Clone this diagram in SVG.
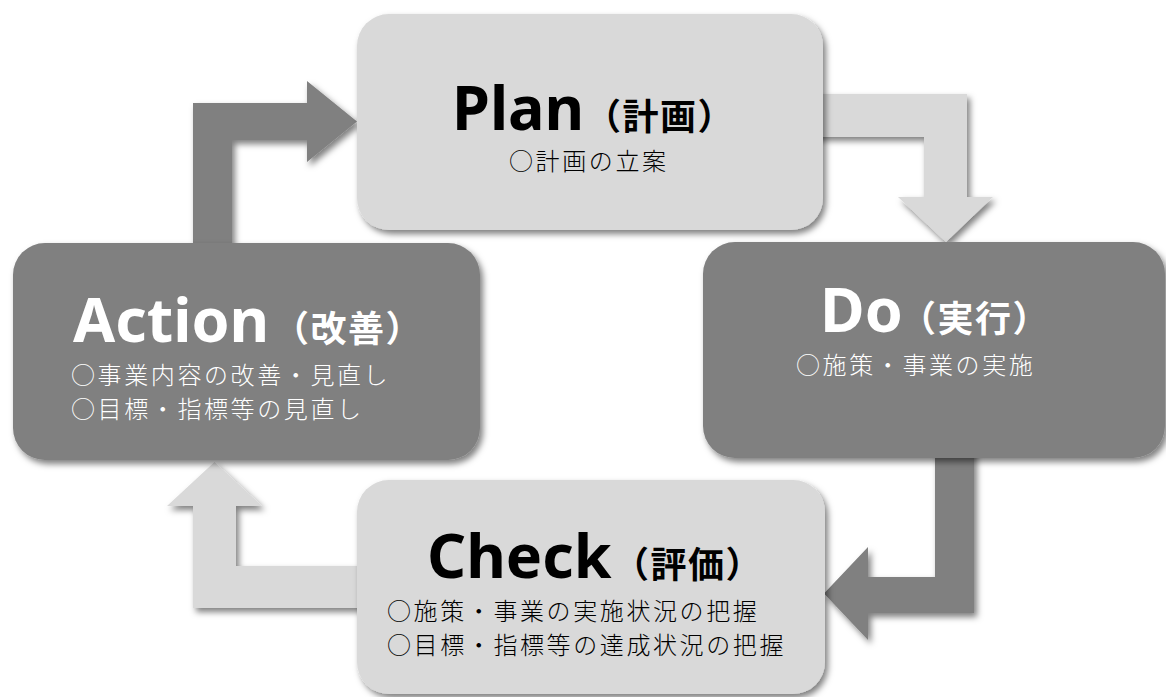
<svg xmlns="http://www.w3.org/2000/svg" width="1166" height="697" viewBox="0 0 1166 697">
<defs>
<filter id="sh" x="-10%" y="-10%" width="130%" height="130%">
<feDropShadow dx="3" dy="4" stdDeviation="3" flood-color="#000" flood-opacity="0.5"/>
</filter>
<style>
.dark{fill:#808080;}
.light{fill:#d9d9d9;}
.title{font-family:"Noto Sans","Noto Sans CJK JP",sans-serif;font-weight:bold;font-size:61px;}
.par{font-family:"Noto Sans CJK JP",sans-serif;font-weight:bold;font-size:36px;letter-spacing:1.5px;}
.sub{font-family:"Noto Sans CJK JP",sans-serif;font-weight:300;font-size:24px;letter-spacing:2.6px;}
.blk{fill:#000;}
.wht{fill:#fff;}
</style>
</defs>
<rect width="1166" height="697" fill="#fff"/>
<g id="connectors" filter="url(#sh)">
<path class="dark" d="M193,255 L193,103 L307,103 L307,81 L357,121.5 L307,162 L307,140 L232,140 L232,255 Z"/>
<path class="light" d="M800,94 L967,94 L967,197 L993,197 L946,242 L898,197 L924,197 L924,137 L800,137 Z"/>
<path class="dark" d="M935,445 L974,445 L974,613 L868,613 L868,640 L824,593.5 L868,547 L868,577 L935,577 Z"/>
<path class="light" d="M193,608 L193,506 L167,506 L214.5,462 L262,506 L236,506 L236,566 L370,566 L370,608 Z"/>
</g>
<g id="plan">
<rect class="light" x="357" y="14" width="466" height="216" rx="32" filter="url(#sh)"/>
<text class="blk" y="130"><tspan class="title" x="452">Plan</tspan><tspan class="par" x="585">（計画）</tspan></text>
<text class="sub blk" x="509" y="170">○計画の立案</text>
</g>
<g id="do">
<rect class="dark" x="703" y="242" width="462" height="216" rx="32" filter="url(#sh)"/>
<text class="wht" y="332"><tspan class="title" x="820">Do</tspan><tspan class="par" x="900">（実行）</tspan></text>
<text class="sub wht" x="796" y="374">○施策・事業の実施</text>
</g>
<g id="check">
<rect class="light" x="357" y="480" width="468" height="214" rx="32" filter="url(#sh)"/>
<text class="blk" y="578"><tspan class="title" x="427">Check</tspan><tspan class="par" x="613">（評価）</tspan></text>
<text class="sub blk" x="387" y="620">○施策・事業の実施状況の把握</text>
<text class="sub blk" x="387" y="654">○目標・指標等の達成状況の把握</text>
</g>
<g id="action">
<rect class="dark" x="13" y="243" width="467" height="217" rx="32" filter="url(#sh)"/>
<text class="wht" y="342"><tspan class="title" x="73">Action</tspan><tspan class="par" x="273">（改善）</tspan></text>
<text class="sub wht" x="71" y="384">○事業内容の改善・見直し</text>
<text class="sub wht" x="71" y="418">○目標・指標等の見直し</text>
</g>
</svg>
